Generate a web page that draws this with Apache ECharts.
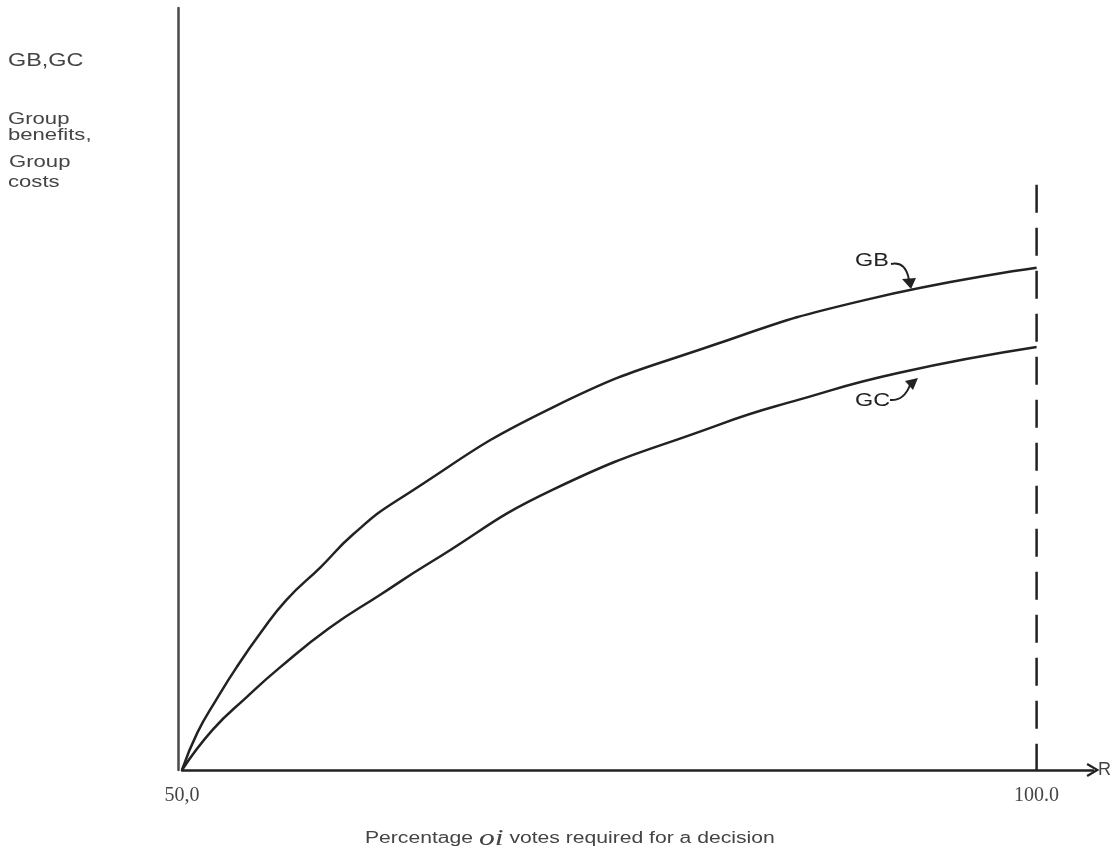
<!DOCTYPE html>
<html>
<head>
<meta charset="utf-8">
<script src="https://cdn.jsdelivr.net/npm/echarts@6/dist/echarts.min.js"></script>
<style>
  html, body { margin: 0; padding: 0; background: #fff; }
  #chart { width: 1120px; height: 849px; }
</style>
</head>
<body>
<div id="chart"></div>
<script>
// percentage of votes required (x) and curve heights (y, 0..100 of axis height)
var gbX = [50, 50.9, 52.0, 53.2, 54.6, 56.1, 58.1, 60.0, 62.6, 71.7, 81.4, 90.0, 100];
var gbY = [0, 4.9, 9.2, 13.5, 18.0, 22.3, 26.6, 30.9, 35.4, 47.6, 56.0, 61.7, 65.9];
var gcX = [50, 51.8, 53.8, 55.7, 58.6, 61.6, 64.5, 71.7, 81.4, 86.1, 91.9, 100];
var gcY = [0, 5.3, 9.6, 13.4, 18.6, 23.0, 27.2, 36.8, 45.3, 48.6, 52.1, 55.5];
// unanimity bound (dashed line at R = 100), drawn top-down
var boundX = [100, 100];
var boundY = [76.8, 0];
var xTickValues = [50, 100];
var xTickLabels = { 50: '50,0', 100: '100.0' };

function pairs(xs, ys) {
    return xs.map(function (x, i) { return [x, ys[i]]; });
}

var ink = '#222';
var textGrey = '#444';
var sans = '"Liberation Sans", Arial, sans-serif';

// the scan's lettering is a bit wider than the font, so stretch it
function label(text, x, y, size, color) {
    return {
        type: 'text', x: x, y: y, scaleX: 1.3,
        style: { text: text, font: size + 'px ' + sans, fill: color || textGrey }
    };
}

var chart = echarts.init(document.getElementById('chart'));

var option = {
    animation: false,
    backgroundColor: '#fff',
    grid: { left: 182, right: 27, top: 8, bottom: 79, outerBoundsMode: 'none' },
    xAxis: {
        type: 'value',
        min: 50,
        max: 103.3,
        name: 'R',
        nameLocation: 'end',
        nameGap: 5,
        nameTextStyle: { fontFamily: sans, fontSize: 18, color: textGrey, verticalAlign: 'middle' },
        splitLine: { show: false },
        axisTick: { show: false },
        axisLine: {
            lineStyle: { color: ink, width: 2.5 },
            symbol: ['none', 'path://M0,10 L6,0 L12,10 L10.3,11 L6,3.6 L1.7,11 Z'],
            symbolSize: [24, 13]
        },
        axisLabel: {
            customValues: xTickValues,
            margin: 16,
            fontFamily: 'Liberation Serif',
            fontSize: 20,
            color: textGrey,
            formatter: function (v) { return xTickLabels[v] || ''; }
        }
    },
    yAxis: {
        type: 'value',
        min: 0,
        max: 100,
        offset: 4,
        splitLine: { show: false },
        axisTick: { show: false },
        axisLabel: { show: false },
        axisLine: { show: true, lineStyle: { color: '#4a4a4a', width: 2.5 } }
    },
    graphic: [
        label('GB,GC', 8, 52, 18),
        label('Group', 8, 111, 17),
        label('benefits,', 8, 127, 17),
        label('Group', 9, 154, 17),
        label('costs', 8, 174, 17),
        {
            type: 'text', x: 365, y: 827, scaleX: 1.32,
            style: {
                text: '{a|Percentage }{b|oi}{a| votes required for a decision}',
                rich: {
                    a: { font: '16px ' + sans, fill: textGrey },
                    b: { font: 'italic 24px "Liberation Serif"', fill: textGrey }
                }
            }
        },
        // curve labels with their hand-drawn pointers
        label('GB', 855, 252, 18, ink),
        { type: 'bezierCurve', shape: { x1: 891, y1: 264, x2: 909, y2: 280, cpx1: 906, cpy1: 261 },
          style: { stroke: ink, lineWidth: 2, fill: null } },
        { type: 'polygon', shape: { points: [[902, 279], [916, 278], [911, 289]] }, style: { fill: ink } },
        label('GC', 855, 392, 18, ink),
        { type: 'bezierCurve', shape: { x1: 890, y1: 400, x2: 910, y2: 385, cpx1: 904, cpy1: 401 },
          style: { stroke: ink, lineWidth: 2, fill: null } },
        { type: 'polygon', shape: { points: [[905, 381], [918, 378], [913, 390]] }, style: { fill: ink } }
    ],
    series: [
        {
            name: 'GB',
            type: 'line',
            smooth: 0.5,
            symbol: 'none',
            data: pairs(gbX, gbY),
            lineStyle: { color: ink, width: 2.5 }
        },
        {
            name: 'GC',
            type: 'line',
            smooth: 0.5,
            symbol: 'none',
            data: pairs(gcX, gcY),
            lineStyle: { color: ink, width: 2.5 }
        },
        {
            name: 'bound',
            type: 'line',
            symbol: 'none',
            data: pairs(boundX, boundY),
            lineStyle: { color: ink, width: 2.5, type: [28, 15] }
        }
    ]
};

chart.setOption(option);
</script>
</body>
</html>
